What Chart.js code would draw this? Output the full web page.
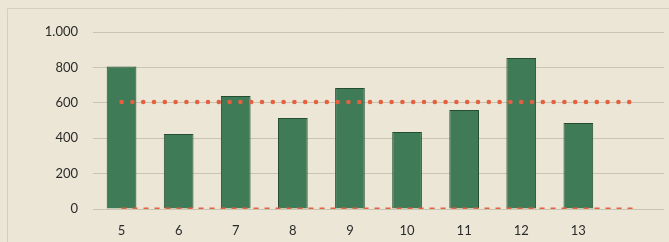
<!DOCTYPE html>
<html><head><meta charset="utf-8">
<script src="https://cdn.jsdelivr.net/npm/chart.js@4"></script>
<style>html,body{margin:0;padding:0;background:#ebe6d6}#wrap{width:669px;height:242px}</style>
</head><body><div id="wrap"><canvas id="c"></canvas></div>
<script>
const categories = ['5','6','7','8','9','10','11','12','13',''];
const values = [805, 424, 638, 514, 684, 435, 559, 853, 486, null];
const targetLine = [605, 605, 605, 605, 605, 605, 605, 605, 605, 605];
const zeroLine = [0, 0, 0, 0, 0, 0, 0, 0, 0, 0];
const yTicks = [0, 200, 400, 600, 800, 1000];

const bg = {
  id: 'bg',
  beforeDraw(chart) {
    const c = chart.ctx;
    c.save();
    c.fillStyle = '#ebe6d6';
    c.fillRect(0, 0, chart.width, chart.height);
    c.strokeStyle = 'rgba(170,165,150,0.35)';
    c.lineWidth = 1;
    c.beginPath();
    c.moveTo(7.5, 242); c.lineTo(7.5, 8.5); c.lineTo(669, 8.5);
    c.stroke();
    c.restore();
  }
};

new Chart(document.getElementById('c'), {
  data: {
    labels: categories,
    datasets: [
      { type: 'line', data: targetLine, borderColor: '#e5603f', borderWidth: 4.5,
        borderDash: [0.1, 10.7], borderCapStyle: 'round', pointRadius: 0, order: 0 },
      { type: 'line', data: zeroLine, borderColor: '#e5603f', borderWidth: 3,
        borderDash: [5, 6], pointRadius: 0, order: 0 },
      { type: 'bar', data: values, backgroundColor: '#3f7b56', borderColor: '#264d33',
        borderWidth: 1, barPercentage: 0.52, categoryPercentage: 1, order: 1 }
    ]
  },
  options: {
    responsive: true, maintainAspectRatio: false, animation: false,
    layout: { padding: { top: 32, right: 5, left: 0, bottom: 0 } },
    plugins: { legend: { display: false }, tooltip: { enabled: false } },
    scales: {
      x: {
        offset: true,
        grid: { display: false }, border: { display: false },
        ticks: { color: '#2b2b2b', padding: 6, font: { family: 'Lato', size: 13 }, maxRotation: 0 },
        afterFit(s) { s.height = 33; }
      },
      y: {
        min: 0, max: 1000,
        afterBuildTicks(s) { s.ticks = yTicks.map(v => ({ value: v })); },
        grid: { color: 'rgba(150,145,130,0.4)', drawTicks: false }, border: { display: false },
        ticks: { color: '#2b2b2b', padding: 15, font: { family: 'Lato', size: 13 },
          callback: v => v.toLocaleString('de-DE') },
        afterFit(s) { s.width = 93; }
      }
    }
  },
  plugins: [bg]
});
</script></body></html>
